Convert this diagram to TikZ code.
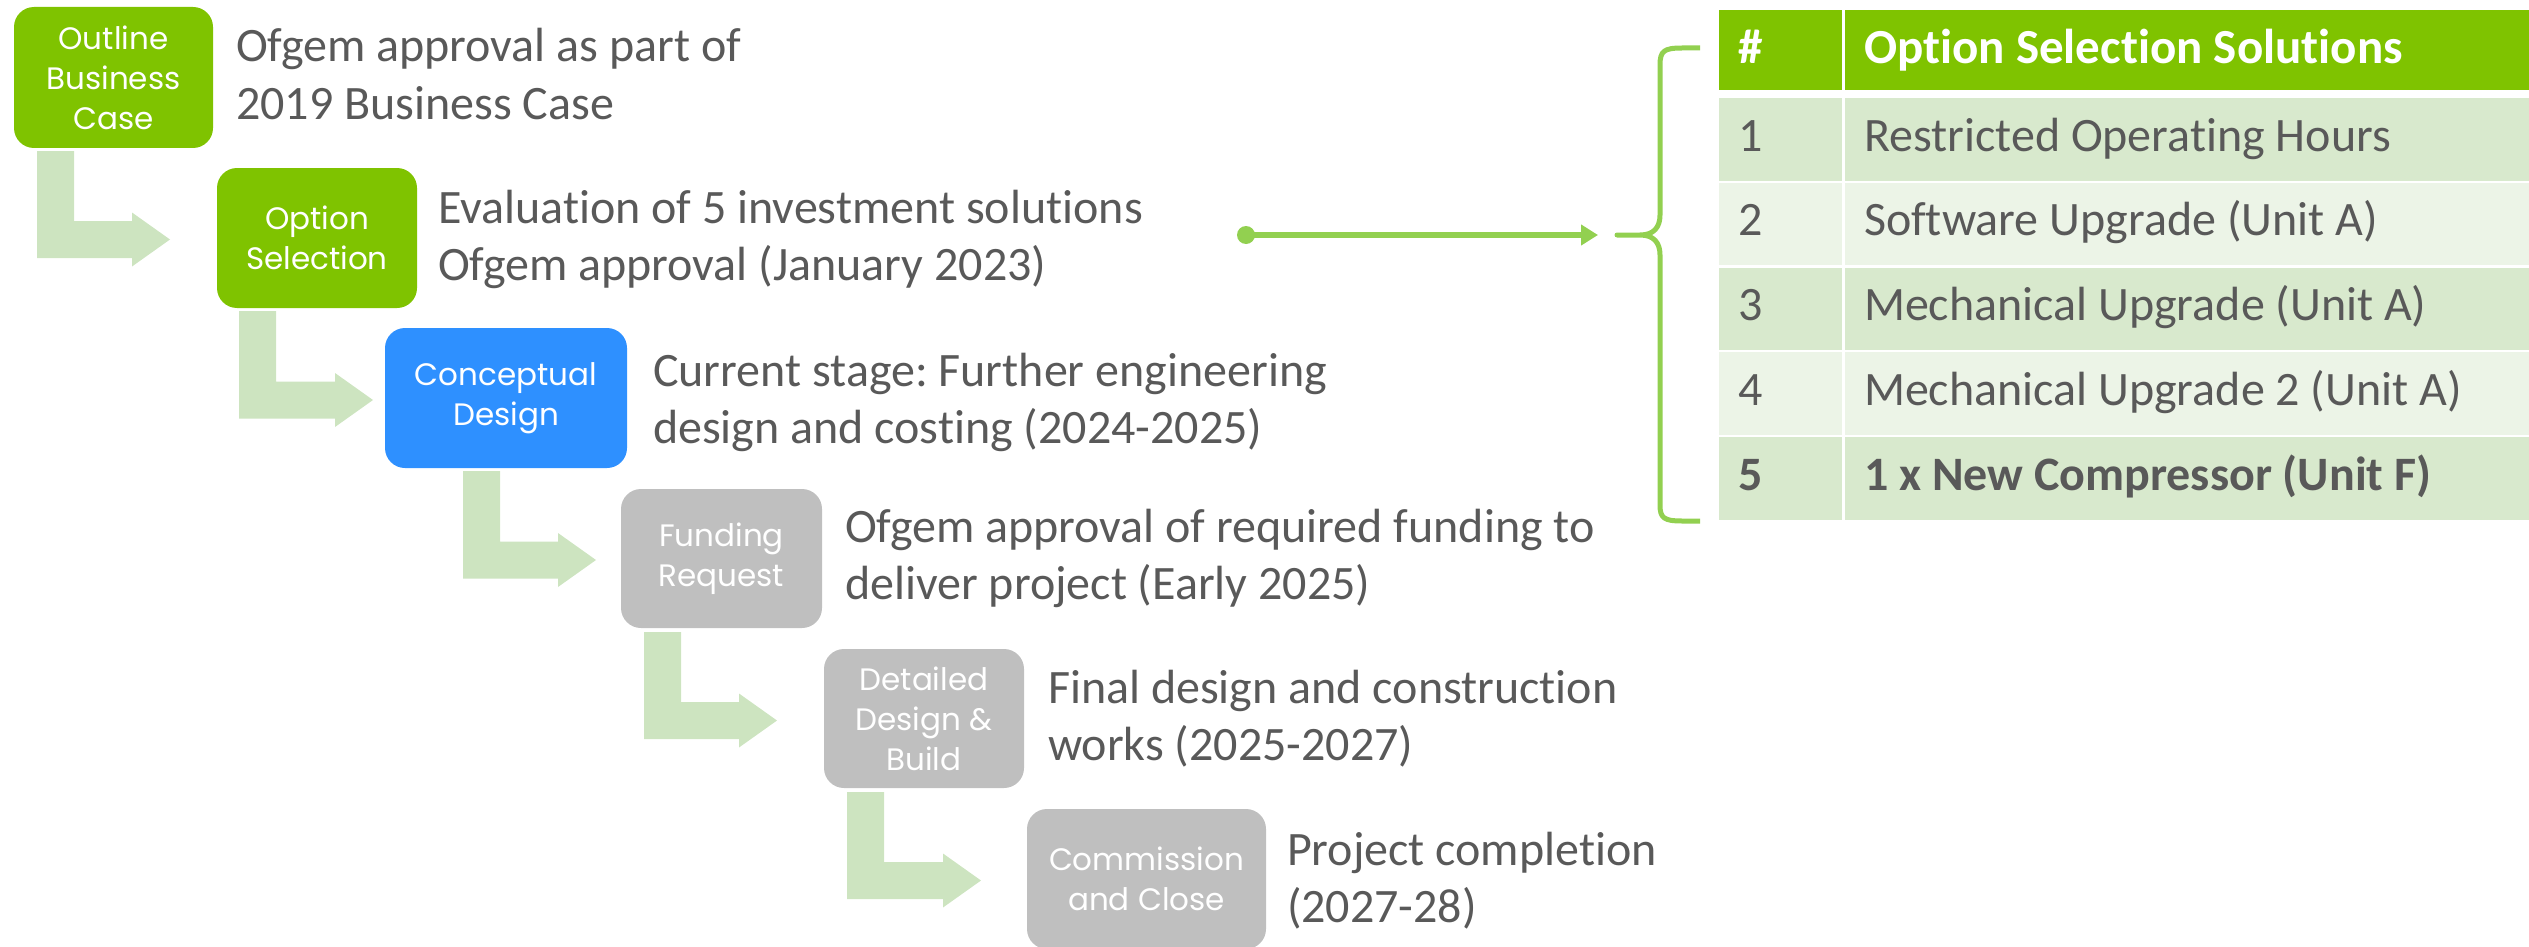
\documentclass[tikz,border=0pt]{standalone}
\usepackage{fontspec}
\setmainfont{Carlito}[Ligatures=NoCommon]
\newfontfamily\boxfont{Poppins}
\usetikzlibrary{arrows.meta}
\frenchspacing
\definecolor{boxgreen}{RGB}{127,195,0}
\definecolor{boxblue}{RGB}{46,144,255}
\definecolor{boxgray}{RGB}{191,191,191}
\definecolor{arrowfill}{RGB}{205,228,192}
\definecolor{conngreen}{RGB}{146,208,80}
\definecolor{txtgray}{RGB}{89,89,89}
\definecolor{rowdark}{RGB}{216,233,205}
\definecolor{rowlight}{RGB}{236,244,231}
\newcommand{\bendarrow}[4]{% #1 stem left x, #2 top y, #3 shaft centre y, #4 tip x
  \fill[arrowfill] (#1,#2) -- ({#1+37},#2) -- ({#1+37},{#3-18.5}) -- ({#4-38},{#3-18.5})
    -- ({#4-38},{#3-27}) -- (#4,#3) -- ({#4-38},{#3+27}) -- ({#4-38},{#3+18.5})
    -- (#1,{#3+18.5}) -- cycle;}
\begin{document}
\begin{tikzpicture}[x=1pt,y=-1pt,
  stage/.style={rounded corners=20pt, inner sep=0pt, outer sep=0pt, text=white,
    font=\boxfont\fontsize{31}{40}\selectfont, align=center},
  desc/.style={inner sep=0pt, outer sep=0pt, anchor=base west, text=txtgray,
    font=\fontsize{48}{57.5}\selectfont},
  cell/.style={inner sep=0pt, outer sep=0pt, anchor=base west, text=txtgray,
    font=\fontsize{48}{56}\selectfont},
  boldcell/.style={cell, font=\fontsize{48}{56}\selectfont\bfseries},
  headcell/.style={cell, text=white, font=\fontsize{49}{56}\selectfont\bfseries}]
\useasboundingbox (0,0) rectangle (2529,947);

% ---- block arrows
\bendarrow{37}{151}{239.5}{170}
\bendarrow{239}{311}{400}{373}
\bendarrow{463}{471}{560}{596}
\bendarrow{644}{632}{720.5}{777}
\bendarrow{847}{792}{880.5}{981}

% ---- stage boxes
\node[stage, fill=boxgreen, minimum width=199pt, minimum height=141pt] (b1) at (113.5,77.5) {Outline\\Business\\Case};
\node[stage, fill=boxgreen, minimum width=200pt, minimum height=140pt] (b2) at (317,238) {Option\\Selection};
\node[stage, fill=boxblue, minimum width=242pt, minimum height=140pt] (b3) at (506,398) {Conceptual\\Design};
\node[stage, fill=boxgray, minimum width=201pt, minimum height=139pt] (b4) at (721.5,558.5) {Funding\\Request};
\node[stage, fill=boxgray, minimum width=200pt, minimum height=139pt] (b5) at (924,718.5) {Detailed\\Design \&\\Build};
\node[stage, fill=boxgray, minimum width=239pt, minimum height=140pt] (b6) at (1146.5,879) {Commission\\and Close};

% ---- descriptions
\node[desc] (d1) at (236,62) {\begin{tabular}[t]{@{}l@{}}Ofgem approval as part of\\2019 Business Case\end{tabular}};
\node[desc] (d2) at (438,223) {\begin{tabular}[t]{@{}l@{}}Evaluation of 5 investment solutions\\Ofgem approval (January 2023)\end{tabular}};
\node[desc] (d3) at (653,386) {\begin{tabular}[t]{@{}l@{}}Current stage: Further engineering\\design and costing (2024-2025)\end{tabular}};
\node[desc] (d4) at (845,542) {\begin{tabular}[t]{@{}l@{}}Ofgem approval of required funding to\\deliver project (Early 2025)\end{tabular}};
\node[desc] (d5) at (1048,703) {\begin{tabular}[t]{@{}l@{}}Final design and construction\\works (2025-2027)\end{tabular}};
\node[desc] (d6) at (1287,865) {\begin{tabular}[t]{@{}l@{}}Project completion\\(2027-28)\end{tabular}};

% ---- connector to the table
\coordinate (cstart) at (1246,235);
\coordinate (cend) at (1598,235);
\draw[conngreen, line width=5.5pt, -{Triangle[length=17pt,width=20pt]}] (cstart) -- (cend);
\fill[conngreen] (cstart) circle (9);

% ---- brace
\draw[conngreen, line width=5pt, line join=round]
  (1700,48) -- (1682,48) .. controls (1664,48) and (1660,51) .. (1660,65)
  -- (1660,215) .. controls (1660,227) and (1654,235) .. (1640,235) -- (1617,235)
  -- (1640,235) .. controls (1654,235) and (1660,243) .. (1660,255)
  -- (1660,505) .. controls (1660,518) and (1664,521) .. (1682,521) -- (1700,521);

% ---- table
\fill[boxgreen] (1719,10) rectangle (1842,90);
\fill[boxgreen] (1845,10) rectangle (2535,90);
\node[headcell] (h1) at (1738,64) {\#};
\node[headcell] (h2) at (1864,64) {Option Selection Solutions};
\foreach \i/\txt in {1/Restricted Operating Hours,2/Software Upgrade (Unit A),3/Mechanical Upgrade (Unit A),4/Mechanical Upgrade 2 (Unit A)}{
  \pgfmathsetmacro{\rt}{98+(\i-1)*84.75}
  \pgfmathtruncatemacro{\odd}{mod(\i,2)}
  \ifnum\odd=1 \def\rc{rowdark}\else\def\rc{rowlight}\fi
  \fill[\rc] (1719,\rt) rectangle (1842,{\rt+82.5});
  \fill[\rc] (1845,\rt) rectangle (2535,{\rt+82.5});
  \node[cell] (n\i) at (1738,{\rt+53}) {\i};
  \node[cell] (t\i) at (1864,{\rt+53}) {\txt};
}
\fill[rowdark] (1719,437) rectangle (1842,520);
\fill[rowdark] (1845,437) rectangle (2535,520);
\node[boldcell] (n5) at (1738,490) {5};
\node[boldcell] (t5) at (1864,490) {1 x New Compressor (Unit F)};
\end{tikzpicture}
\end{document}
